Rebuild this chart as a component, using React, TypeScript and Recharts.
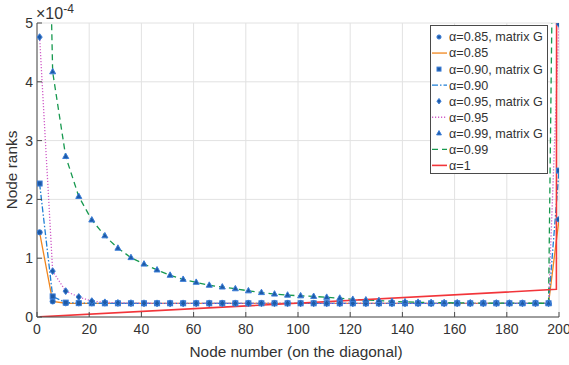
import { LineChart, Line, XAxis, YAxis, CartesianGrid } from 'recharts';

// node positions sampled along the diagonal
const NODES = [
  1, 6, 11, 16, 21, 26, 31, 36, 41, 46, 51, 56, 61, 66, 71, 76, 81, 86, 91, 96, 101,
  106, 111, 116, 121, 126, 131, 136, 141, 146, 151, 156, 161, 166, 171, 176, 181, 186, 191, 196, 200,
];

// ranks in units of 1e-4
const RANKS_085 = [
  1.44, 0.265, 0.234, 0.233, 0.233, 0.233, 0.233, 0.233, 0.233, 0.233, 0.233, 0.233, 0.233, 0.233,
  0.233, 0.233, 0.233, 0.233, 0.233, 0.233, 0.233, 0.233, 0.233, 0.233, 0.233, 0.233, 0.233, 0.233,
  0.233, 0.233, 0.233, 0.233, 0.233, 0.233, 0.233, 0.233, 0.233, 0.233, 0.233, 0.233, 1.66,
];
const RANKS_090 = [
  2.27, 0.35, 0.245, 0.236, 0.234, 0.233, 0.233, 0.233, 0.233, 0.233, 0.233, 0.233, 0.233, 0.233,
  0.233, 0.233, 0.233, 0.233, 0.233, 0.233, 0.233, 0.233, 0.233, 0.233, 0.233, 0.233, 0.233, 0.233,
  0.233, 0.233, 0.233, 0.233, 0.233, 0.233, 0.233, 0.233, 0.233, 0.233, 0.233, 0.233, 2.49,
];
const RANKS_095 = [
  4.76, 0.78, 0.44, 0.34, 0.27, 0.25, 0.24, 0.236, 0.234, 0.233, 0.233, 0.233, 0.233, 0.233,
  0.233, 0.233, 0.233, 0.233, 0.233, 0.233, 0.233, 0.233, 0.233, 0.233, 0.233, 0.233, 0.233, 0.233,
  0.233, 0.233, 0.233, 0.233, 0.233, 0.233, 0.233, 0.233, 0.233, 0.233, 0.233, 0.233, 4.98,
];
const RANKS_099 = [
  14.5, 4.17, 2.73, 2.05, 1.65, 1.38, 1.17, 1.01, 0.9, 0.8, 0.71, 0.64, 0.59, 0.54,
  0.51, 0.48, 0.445, 0.415, 0.39, 0.372, 0.36, 0.35, 0.335, 0.32, 0.3, 0.29, 0.28, 0.265,
  0.258, 0.25, 0.246, 0.243, 0.24, 0.238, 0.237, 0.236, 0.235, 0.234, 0.234, 0.234, 15.5,
];
const NODES_A1 = [1, 199, 200];
const RANKS_A1 = [0.003, 0.47, 60];

const X_TICKS = [0, 20, 40, 60, 80, 100, 120, 140, 160, 180, 200];
const Y_TICKS = [0, 1, 2, 3, 4, 5];

const FONT = '"Liberation Sans", Arial, Helvetica, sans-serif';
const AXIS = '#4a4a4a';
const TEXT = '#333';
const MARK_FILL = '#1d5aa6';
const MARK_EDGE = '#3b7dd8';

type Pt = { node: number; rank: number };
const toPoints = (xs: number[], ys: number[]): Pt[] => xs.map((node, i) => ({ node, rank: ys[i] }));

type Marker = 'circle' | 'square' | 'diamond' | 'triangle';
type Series = {
  key: string;
  label: string;
  data: Pt[];
  marker?: Marker;
  color?: string;
  dash?: string;
  width?: number;
};

const SERIES: Series[] = [
  { key: 'g085', label: 'α=0.85, matrix G', data: toPoints(NODES, RANKS_085), marker: 'circle' },
  { key: 'l085', label: 'α=0.85', data: toPoints(NODES, RANKS_085), color: '#f0861e' },
  { key: 'g090', label: 'α=0.90, matrix G', data: toPoints(NODES, RANKS_090), marker: 'square' },
  { key: 'l090', label: 'α=0.90', data: toPoints(NODES, RANKS_090), color: '#1f7fd6', dash: '6 2 1.5 2' },
  { key: 'g095', label: 'α=0.95, matrix G', data: toPoints(NODES, RANKS_095), marker: 'diamond' },
  { key: 'l095', label: 'α=0.95', data: toPoints(NODES, RANKS_095), color: '#d05ec8', dash: '1.2 1.8' },
  { key: 'g099', label: 'α=0.99, matrix G', data: toPoints(NODES, RANKS_099), marker: 'triangle' },
  { key: 'l099', label: 'α=0.99', data: toPoints(NODES, RANKS_099), color: '#17994f', dash: '6 4' },
  { key: 'l1', label: 'α=1', data: toPoints(NODES_A1, RANKS_A1), color: '#f2353a', width: 1.6 },
];

function markerShape(kind: Marker, cx: number, cy: number, key?: string, s = 1) {
  const common = { fill: MARK_FILL, stroke: MARK_EDGE, strokeWidth: 1 };
  if (kind === 'circle') return <circle key={key} cx={cx} cy={cy} r={2.6 * s} {...common} />;
  if (kind === 'square')
    return <rect key={key} x={cx - 2.5 * s} y={cy - 2.5 * s} width={5 * s} height={5 * s} {...common} />;
  if (kind === 'diamond')
    return (
      <path
        key={key}
        d={`M${cx},${cy - 3.4 * s}L${cx + 2.6 * s},${cy}L${cx},${cy + 3.4 * s}L${cx - 2.6 * s},${cy}Z`}
        {...common}
      />
    );
  return <path key={key} d={`M${cx},${cy - 3.4 * s}L${cx + 3 * s},${cy + 2 * s}L${cx - 3 * s},${cy + 2 * s}Z`} {...common} />;
}

const dotRenderer = (kind: Marker) => (p: any) => {
  if (p.cx == null || p.cy == null) return <g key={p.key} />;
  return markerShape(kind, p.cx, p.cy, p.key);
};

function LegendBox() {
  const rowH = 16.05;
  return (
    <svg width={118} height={149} style={{ position: 'absolute', left: 430, top: 25, fontFamily: FONT }}>
      <rect x={0.5} y={0.5} width={117} height={148} fill="#fff" stroke={AXIS} strokeWidth={1} />
      {SERIES.map((s, i) => {
        const cy = 12 + i * rowH;
        return (
          <g key={s.key}>
            {s.marker ? (
              markerShape(s.marker, 9, cy, undefined, 0.8)
            ) : (
              <line x1={2} x2={17} y1={cy} y2={cy} stroke={s.color} strokeWidth={s.width ?? 1.3} strokeDasharray={s.dash} />
            )}
            <text x={19} y={cy + 4.4} fontSize={12.6} fill={TEXT}>
              {s.label}
            </text>
          </g>
        );
      })}
    </svg>
  );
}

export default function App() {
  return (
    <div style={{ position: 'absolute', left: 0, top: 0, width: 569, height: 365, background: '#fff', fontFamily: FONT }}>
      <LineChart width={569} height={365} margin={{ top: 23, right: 10, bottom: 0, left: 0 }}>
        <CartesianGrid stroke="#e2e2e2" strokeWidth={1} />
        <XAxis
          dataKey="node"
          type="number"
          domain={[0, 200]}
          ticks={X_TICKS}
          interval={0}
          allowDataOverflow
          height={48}
          stroke={AXIS}
          tickSize={-5}
          tickMargin={12}
          tick={{ fill: TEXT, fontSize: 14 }}
        />
        <XAxis
          xAxisId="top"
          orientation="top"
          type="number"
          domain={[0, 200]}
          ticks={X_TICKS}
          interval={0}
          allowDataOverflow
          height={0}
          stroke={AXIS}
          tickSize={-5}
          tickFormatter={() => ''}
        />
        <YAxis
          type="number"
          domain={[0, 5]}
          ticks={Y_TICKS}
          interval={0}
          allowDataOverflow
          width={37}
          stroke={AXIS}
          tickSize={-5}
          tickMargin={9}
          tick={{ fill: TEXT, fontSize: 14 }}
        />
        <YAxis
          yAxisId="right"
          orientation="right"
          type="number"
          domain={[0, 5]}
          ticks={Y_TICKS}
          interval={0}
          allowDataOverflow
          width={0}
          stroke={AXIS}
          tickSize={-5}
          tickFormatter={() => ''}
        />
        {SERIES.map((s) =>
          s.marker ? (
            <Line
              key={s.key}
              data={s.data}
              dataKey="rank"
              type="linear"
              stroke="none"
              dot={dotRenderer(s.marker)}
              activeDot={false}
              isAnimationActive={false}
            />
          ) : (
            <Line
              key={s.key}
              data={s.data}
              dataKey="rank"
              type="linear"
              stroke={s.color}
              strokeWidth={s.width ?? 1.3}
              strokeDasharray={s.dash}
              dot={false}
              activeDot={false}
              isAnimationActive={false}
            />
          )
        )}
      </LineChart>

      {/* axis scale factor */}
      <div style={{ position: 'absolute', left: 36, top: 5, fontSize: 16, lineHeight: '17px', color: TEXT, whiteSpace: 'nowrap' }}>
        ×10<span style={{ fontSize: 12, position: 'relative', top: -6 }}>-4</span>
      </div>
      <div
        style={{
          position: 'absolute',
          left: 12,
          top: 170,
          transform: 'translate(-50%, -50%) rotate(-90deg)',
          fontSize: 15.4,
          color: TEXT,
          whiteSpace: 'nowrap',
        }}
      >
        Node ranks
      </div>
      <div
        style={{
          position: 'absolute',
          left: 296,
          top: 352,
          transform: 'translate(-50%, -50%)',
          fontSize: 15.4,
          color: TEXT,
          whiteSpace: 'nowrap',
        }}
      >
        Node number (on the diagonal)
      </div>
      <LegendBox />
    </div>
  );
}
